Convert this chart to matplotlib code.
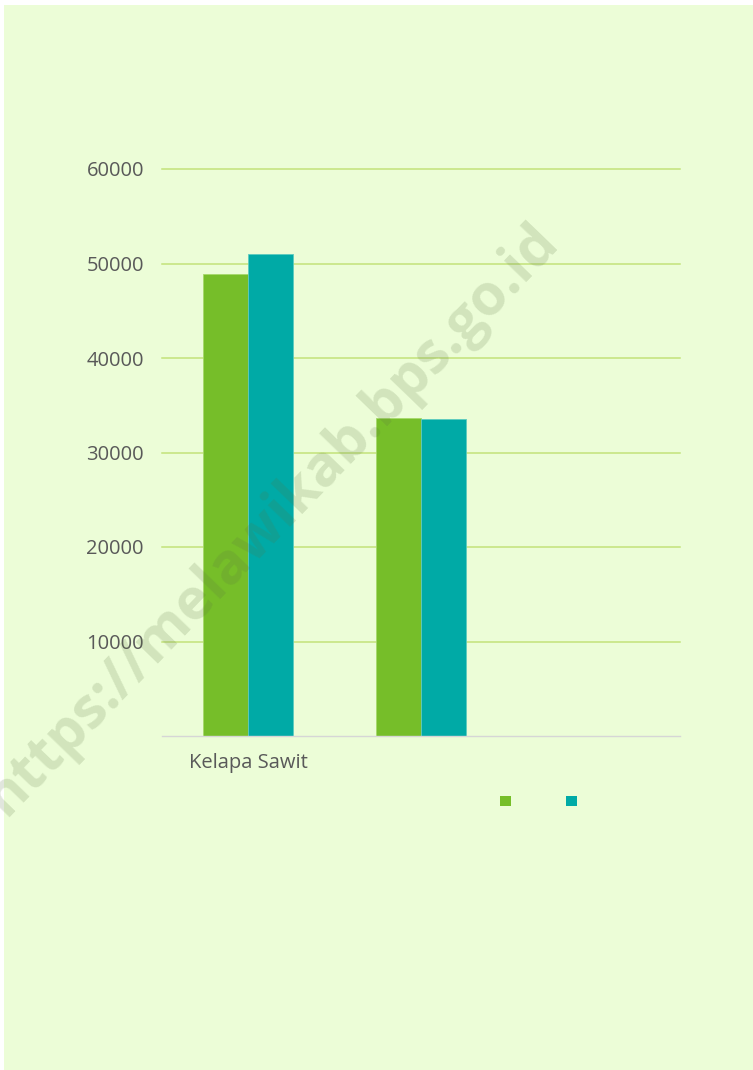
import matplotlib
matplotlib.use("Agg")
import matplotlib.pyplot as plt
from matplotlib.patches import Patch, Rectangle
import numpy as np

categories = ["Kelapa Sawit", "", ""]
series_a = [48900, 33600, np.nan]
series_b = [51000, 33500, np.nan]
yticks = [10000, 20000, 30000, 40000, 50000, 60000]
watermark = "https://melawikab.bps.go.id"

bg = "#ECFDD7"
green = "#76BE29"
teal = "#00AAA6"
text_col = "#595959"

fig = plt.figure(figsize=(7.53, 10.70), dpi=100, facecolor="white")
fig.add_artist(Rectangle((4 / 753, 0), 1, 1 - 5 / 1070, transform=fig.transFigure,
                         facecolor=bg, edgecolor="none", zorder=0))

ax = fig.add_axes([162 / 753, 1 - 736 / 1070, (680 - 162) / 753, (736 - 169) / 1070])
ax.set_facecolor("none")
x = np.arange(len(categories))
w = 0.26
ax.bar(x - w / 2, series_a, w, color=green, edgecolor="#A6D96A", linewidth=0.6, zorder=3)
ax.bar(x + w / 2, series_b, w, color=teal, edgecolor="#5CCBBF", linewidth=0.6, zorder=3)
ax.set_xlim(-0.5, 2.5)
ax.set_ylim(0, 60000)
ax.set_yticks(yticks)
ax.set_yticklabels([str(v) for v in yticks], fontsize=14.5, color=text_col, family="Open Sans")
ax.set_xticks(x)
ax.set_xticklabels(categories, fontsize=14.5, color=text_col, family="Open Sans")
ax.tick_params(axis="y", length=0, pad=13)
ax.tick_params(axis="x", length=0, pad=12)
ax.yaxis.grid(True, color="#C3E27A", linewidth=1.1, zorder=1)
for gl in ax.get_ygridlines():
    gl.set_clip_on(False)
ax.set_axisbelow(True)
for s in ["top", "right", "left"]:
    ax.spines[s].set_visible(False)
ax.spines["bottom"].set_color("#D6D6D6")
ax.spines["bottom"].set_linewidth(1.0)
ax.spines["bottom"].set_zorder(4)

handles = [Patch(facecolor=green, edgecolor="none"), Patch(facecolor=teal, edgecolor="none")]
fig.legend(handles, ["", ""], loc="center", bbox_to_anchor=(538.5 / 753, 1 - 802 / 1070),
           ncol=2, frameon=False, fontsize=10, handlelength=0.8, handleheight=0.75,
           handletextpad=0, columnspacing=3.95, borderpad=0)

fig.text(272 / 753, 1 - 520 / 1070, watermark, rotation=46, ha="center", va="center",
         fontsize=41, fontweight="bold", family="Open Sans",
         color=(90 / 255, 115 / 255, 65 / 255), alpha=0.18, zorder=10)

fig.savefig("out.png", dpi=100, facecolor="white")
